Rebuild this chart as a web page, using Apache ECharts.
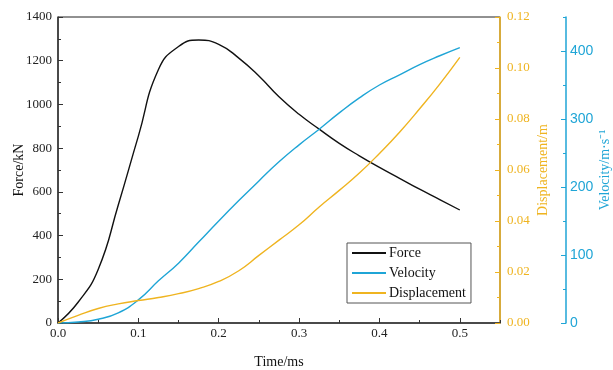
<!DOCTYPE html>
<html>
<head>
<meta charset="utf-8">
<script src="https://cdn.jsdelivr.net/npm/echarts@6/dist/echarts.min.js"></script>
<style>html,body{margin:0;padding:0;background:#fff}#c{width:613px;height:370px}</style>
</head>
<body>
<div id="c"></div>
<script>
const time = [0, 0.025, 0.05, 0.075, 0.1, 0.125, 0.15, 0.175, 0.2, 0.225, 0.25, 0.275, 0.3, 0.325, 0.35, 0.375, 0.4, 0.425, 0.45, 0.475, 0.5];
const force = [0, 95, 245, 540, 855, 1160, 1265, 1295, 1275, 1212, 1130, 1035, 955, 887, 822, 765, 712, 662, 612, 565, 517];
const velocity = [0, 1.5, 5.5, 15, 34, 62, 88, 119, 150, 180, 209, 237, 262, 285, 309, 331, 350, 365, 380, 393, 405];
const displacement = [0, 0.003, 0.0057, 0.0075, 0.0088, 0.0100, 0.0115, 0.0135, 0.0163, 0.0205, 0.0265, 0.0325, 0.0385, 0.0455, 0.0520, 0.0588, 0.0665, 0.0748, 0.0840, 0.0937, 0.1042];

const BLACK = '#111111', BLUE = '#1fa5d6', ORANGE = '#efb420';
const SERIF = '"Liberation Serif","Times New Roman",serif';
const SANS = '"Liberation Sans",Arial,sans-serif';
const pair = arr => time.map((t, i) => [t, arr[i]]);

const chart = echarts.init(document.getElementById('c'), null, {renderer: 'canvas'});
chart.setOption({
  animation: false,
  backgroundColor: '#fff',
  grid: {left: 58, right: 113, top: 17, bottom: 47, containLabel: false, outerBoundsMode: 'none',
         show: true, borderColor: '#222', borderWidth: 1},
  legend: {
    left: 347, top: 243, orient: 'vertical', itemWidth: 34, itemHeight: 14, itemGap: 6,
    padding: [3, 5, 3, 4], borderColor: '#555', borderWidth: 1, backgroundColor: '#fff',
    itemStyle: {opacity: 0},
    textStyle: {fontFamily: SERIF, fontSize: 14, color: '#111', padding: [0, 0, 0, -2]},
    data: ['Force', 'Velocity', 'Displacement']
  },
  xAxis: [
    {type: 'value', min: 0, max: 0.55, interval: 0.1, position: 'bottom',
     name: 'Time/ms', nameLocation: 'middle', nameGap: 32, nameMoveOverlap: false,
     nameTextStyle: {fontFamily: SERIF, fontSize: 14, color: '#111'},
     axisLine: {onZero: false, lineStyle: {color: '#333', width: 1.5}},
     axisTick: {inside: true, length: 5, lineStyle: {color: '#333'}},
     axisLabel: {fontFamily: SERIF, fontSize: 13, color: '#222', margin: 4, showMaxLabel: false,
                 formatter: v => v.toFixed(1)},
     splitLine: {show: false}},
    {type: 'value', min: 0, max: 0.55, interval: 0.05, position: 'bottom',
     axisLine: {show: false, onZero: false}, axisLabel: {show: false},
     axisTick: {inside: true, length: 3, lineStyle: {color: '#333'}},
     splitLine: {show: false}}
  ],
  yAxis: [
    {type: 'value', min: 0, max: 1400, interval: 200, position: 'left',
     name: 'Force/kN', nameLocation: 'middle', nameGap: 32, nameRotate: 90, nameMoveOverlap: false,
     nameTextStyle: {fontFamily: SERIF, fontSize: 14, color: '#111'},
     axisLine: {show: true, onZero: false, lineStyle: {color: '#333', width: 1.5}},
     axisTick: {show: true, inside: true, length: 5, lineStyle: {color: '#333'}},
     minorTick: {show: true, splitNumber: 2, length: 3, lineStyle: {color: '#333'}},
     axisLabel: {fontFamily: SERIF, fontSize: 13, color: '#222', margin: 6, formatter: v => String(v)},
     splitLine: {show: false}},
    {type: 'value', min: 0, max: 0.12, interval: 0.02, position: 'right',
     name: 'Displacement/m', nameLocation: 'middle', nameGap: 36, nameRotate: 90, nameMoveOverlap: false,
     nameTextStyle: {fontFamily: SERIF, fontSize: 14, color: ORANGE},
     axisLine: {show: true, onZero: false, lineStyle: {color: ORANGE, width: 1.5}},
     axisTick: {show: true, inside: true, length: 5, lineStyle: {color: ORANGE}},
     minorTick: {show: true, splitNumber: 2, length: 3, lineStyle: {color: ORANGE}},
     axisLabel: {fontFamily: SERIF, fontSize: 13, color: ORANGE, margin: 7, formatter: v => v.toFixed(2)},
     splitLine: {show: false}},
    {type: 'value', min: 0, max: 450, interval: 100, position: 'right', offset: 66,
     name: 'Velocity/m·s⁻¹', nameLocation: 'middle', nameGap: 32, nameRotate: 90, nameMoveOverlap: false,
     nameTextStyle: {fontFamily: SERIF, fontSize: 14, color: BLUE},
     axisLine: {show: true, onZero: false, lineStyle: {color: BLUE, width: 1.5}},
     axisTick: {show: true, inside: true, length: 5, lineStyle: {color: BLUE}},
     axisLabel: {fontFamily: SANS, fontSize: 14, color: BLUE, margin: 4, showMaxLabel: false, formatter: v => String(v)},
     splitLine: {show: false}},
    {type: 'value', min: 0, max: 450, interval: 50, position: 'right', offset: 66,
     axisLine: {show: false, onZero: false}, axisLabel: {show: false},
     axisTick: {show: true, inside: true, length: 3, lineStyle: {color: BLUE}},
     splitLine: {show: false}}
  ],
  series: [
    {name: 'Force', type: 'line', xAxisIndex: 0, yAxisIndex: 0, smooth: 0.5, symbol: 'none',
     lineStyle: {color: BLACK, width: 1.4}, itemStyle: {color: BLACK}, data: pair(force)},
    {name: 'Velocity', type: 'line', xAxisIndex: 0, yAxisIndex: 2, smooth: 0.5, symbol: 'none',
     lineStyle: {color: BLUE, width: 1.4}, itemStyle: {color: BLUE}, data: pair(velocity)},
    {name: 'Displacement', type: 'line', xAxisIndex: 0, yAxisIndex: 1, smooth: 0.5, symbol: 'none',
     lineStyle: {color: ORANGE, width: 1.4}, itemStyle: {color: ORANGE}, data: pair(displacement)}
  ]
});
</script>
</body>
</html>
